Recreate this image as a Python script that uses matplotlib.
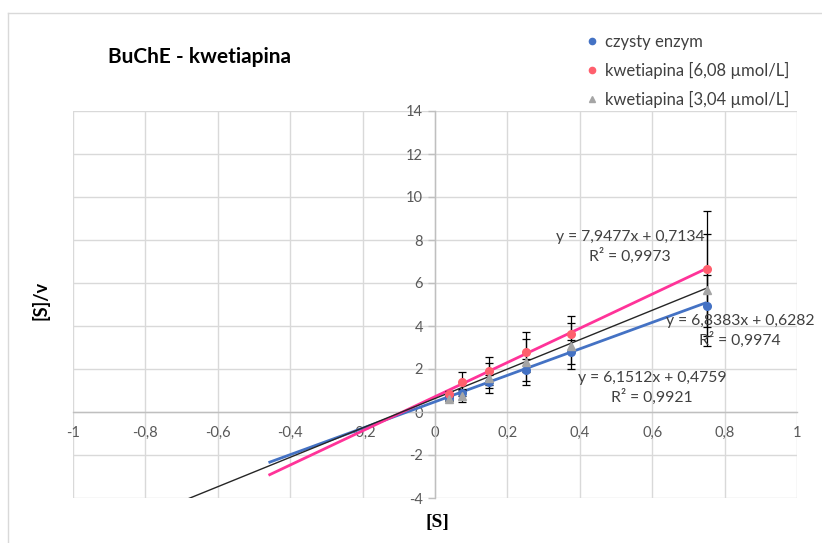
import numpy as np
import matplotlib
matplotlib.use("Agg")
import matplotlib.pyplot as plt
from matplotlib.lines import Line2D

plt.rcParams["font.family"] = ["Lato", "DejaVu Sans"]

# substrate concentrations
s_vals = [0.0375, 0.075, 0.15, 0.25, 0.375, 0.75]

# [S]/v for each series
pure_y = [0.65, 0.88, 1.40, 1.95, 2.79, 4.95]
pure_err = [0.10, 0.15, 0.30, 0.50, 0.55, 1.40]
q608_y = [0.85, 1.40, 1.91, 2.79, 3.63, 6.65]
q608_err = [0.15, 0.46, 0.65, 0.93, 0.84, 2.70]
q304_y = [0.62, 0.75, 1.58, 2.33, 3.07, 5.67]
q304_err = [0.12, 0.30, 0.70, 1.07, 1.07, 2.60]

# trendline fits (slope, intercept, R^2) and backward forecast start
fits = {
    "pure": (6.1512, 0.4759, 0.9921, -0.46),
    "q608": (7.9477, 0.7134, 0.9973, -0.46),
    "q304": (6.8383, 0.6282, 0.9974, -0.75),
}

labels = ["czysty enzym", "kwetiapina [6,08 µmol/L]", "kwetiapina [3,04 µmol/L]"]
x_ticks = [-1, -0.8, -0.6, -0.4, -0.2, 0, 0.2, 0.4, 0.6, 0.8, 1]
y_ticks = [-4, -2, 0, 2, 4, 6, 8, 10, 12, 14]

blue = "#4472C4"
pink = "#FF3399"
pink_mk = "#FF5F6D"
grey_mk = "#A5A5A5"
txt = "#404040"


def fmt(v):
    return ("%g" % v).replace(".", ",")


def dec(v):
    return ("%.4f" % v).replace(".", ",")


fig = plt.figure(figsize=(8.22, 5.43), dpi=100)
ax = fig.add_axes([73 / 822, 1 - 498 / 543, 724 / 822, 387 / 543])
ax.set_xlim(-1, 1)
ax.set_ylim(-4, 14)

# trendlines
for key, col, lw in [("pure", blue, 2.0), ("q608", pink, 2.0), ("q304", "#262626", 1.0)]:
    m, b, r2, x0 = fits[key]
    xs = np.array([x0, s_vals[-1]])
    ax.plot(xs, m * xs + b, color=col, lw=lw, zorder=3, solid_capstyle="butt")

# points with error bars
ekw = dict(ls="none", ecolor="black", elinewidth=0.9, capsize=3, capthick=0.9, zorder=4)
ax.errorbar(s_vals, pure_y, yerr=pure_err, marker="o", ms=5.5, mfc=blue, mec=blue, **ekw)
ax.errorbar(s_vals, q608_y, yerr=q608_err, marker="o", ms=5.5, mfc=pink_mk, mec=pink_mk, **ekw)
ax.errorbar(s_vals, q304_y, yerr=q304_err, marker="^", ms=6, mfc=grey_mk, mec=grey_mk, **ekw)

# axes crossing at zero, Excel-like grid
for s in ["top", "right"]:
    ax.spines[s].set_visible(False)
ax.spines["left"].set_position(("data", 0))
ax.spines["bottom"].set_position(("data", 0))
for s in ["left", "bottom"]:
    ax.spines[s].set_color("#BFBFBF")
    ax.spines[s].set_linewidth(1.0)
ax.set_xticks(x_ticks)
ax.set_yticks(y_ticks)
ax.set_xticklabels([fmt(v) for v in x_ticks])
ax.set_yticklabels([fmt(v) for v in y_ticks])
ax.tick_params(axis="both", colors="#BFBFBF", labelcolor="#595959", labelsize=10.5, length=5, width=1)
ax.tick_params(axis="x", length=0, pad=10)
ax.grid(True, color="#D9D9D9", lw=1)
ax.set_axisbelow(True)

# equations of the trendlines
eq_pos = {"q608": (0.539, 7.67), "q304": (0.843, 3.77), "pure": (0.600, 1.12)}
for key, (ex, ey) in eq_pos.items():
    m, b, r2, _ = fits[key]
    s = "y = %sx + %s\nR² = %s" % (dec(m), dec(b), dec(r2))
    ax.text(ex, ey, s, ha="center", va="center", fontsize=11.3, color=txt,
            linespacing=1.3, zorder=5, clip_on=False)

# titles
fig.text(108 / 822, 1 - 57 / 543, "BuChE - kwetiapina", fontsize=15, fontweight="bold",
         ha="left", va="center", color="black")
fig.text(40 / 822, 1 - 300 / 543, "[S]/v", fontsize=13, fontweight="bold", rotation=90,
         ha="center", va="center", color="black")
fig.text(437 / 822, 1 - 522 / 543, "[S]", fontsize=14, fontweight="bold",
         family="Liberation Serif", ha="center", va="center", color="black")

# legend
handles = [
    Line2D([], [], ls="none", marker="o", ms=4.5, mfc=blue, mec=blue),
    Line2D([], [], ls="none", marker="o", ms=4.5, mfc=pink_mk, mec=pink_mk),
    Line2D([], [], ls="none", marker="^", ms=5, mfc=grey_mk, mec=grey_mk),
]
leg = fig.legend(handles, labels, loc="upper left", bbox_to_anchor=(580 / 822, 1 - 27 / 543),
                 frameon=False, fontsize=12, handlelength=0.6, handletextpad=0.5,
                 labelspacing=0.72, borderaxespad=0)
for t in leg.get_texts():
    t.set_color(txt)

# chart area border
fig.add_artist(Line2D([8 / 822, 1], [1 - 13 / 543] * 2, color="#D9D9D9", lw=1, transform=fig.transFigure))
fig.add_artist(Line2D([8 / 822] * 2, [0, 1 - 13 / 543], color="#D9D9D9", lw=1, transform=fig.transFigure))

fig.savefig("out.png", dpi=100)
